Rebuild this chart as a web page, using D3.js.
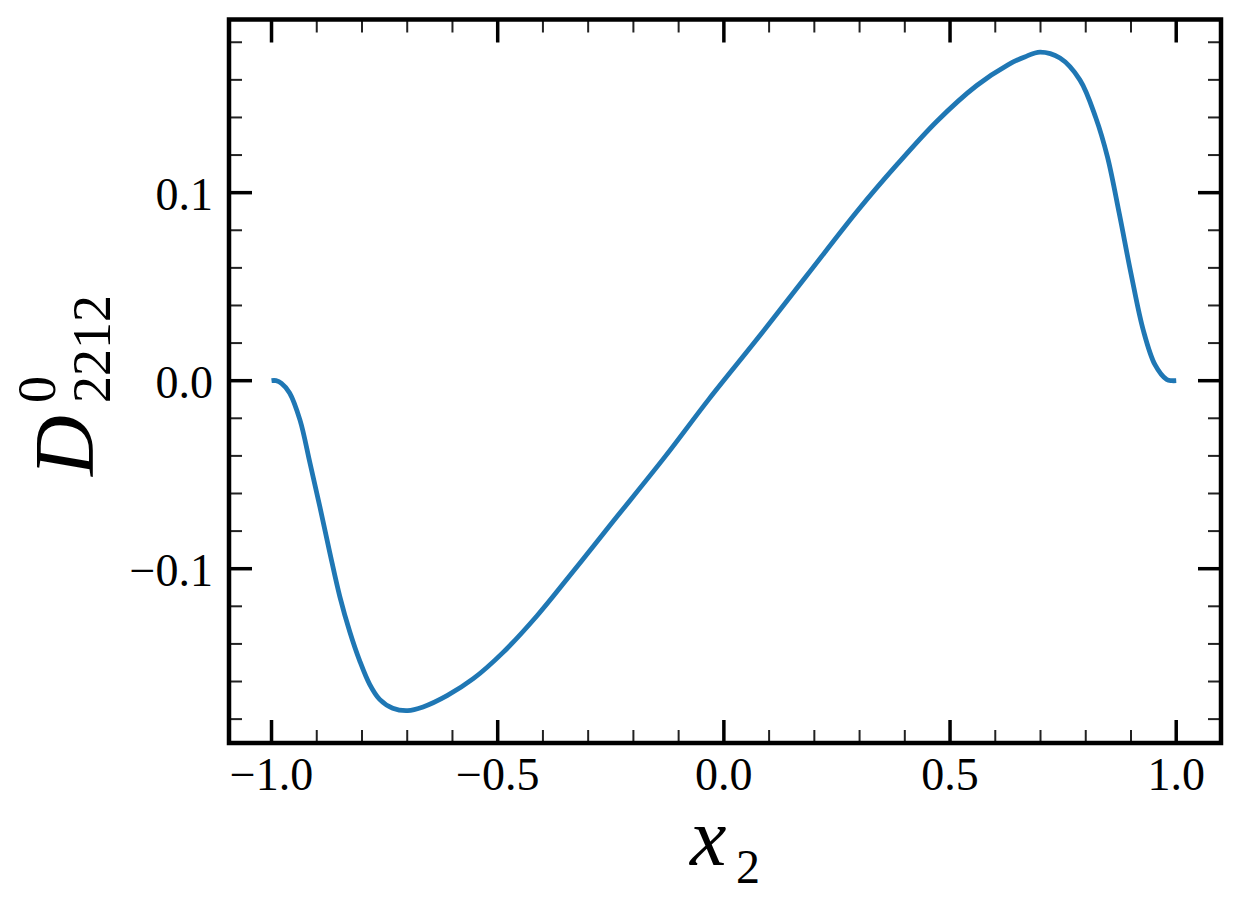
<!DOCTYPE html>
<html lang="en">
<head>
<meta charset="UTF-8">
<title>D2212 vs x2</title>
<script src="https://cdn.jsdelivr.net/npm/d3@7"></script>
<style>
    body { margin: 0; background: #fff; }
    svg { display: block; }
    .tick-label { font-family: 'Liberation Serif', 'Times New Roman', serif; font-size: 46px; fill: #000; }
    .math { font-family: 'Liberation Serif', 'Times New Roman', serif; fill: #000; }
</style>
</head>
<body>
<svg id="chart" width="1240" height="908"></svg>
<script>
    // curve
    const xVals = [-1.0, -0.99, -0.978, -0.96, -0.937, -0.915, -0.893, -0.871, -0.849, -0.827, -0.805, -0.783,
        -0.761, -0.732, -0.699, -0.665, -0.612, -0.554, -0.488, -0.413, -0.340, -0.267, -0.234, -0.13, -0.033,
        0.077, 0.182, 0.296, 0.383, 0.471, 0.559, 0.628, 0.665, 0.699, 0.743, 0.787, 0.822, 0.848, 0.874,
        0.900, 0.927, 0.953, 0.979, 0.99, 1.0];
    const yVals = [0, 0, -0.0014, -0.0065, -0.021, -0.0438, -0.0672, -0.0916, -0.1148, -0.1335, -0.149, -0.1615,
        -0.1695, -0.1742, -0.1755, -0.1735, -0.1675, -0.1585, -0.1445, -0.125, -0.1035, -0.0815, -0.0716, -0.0404, -0.0098,
        0.0232, 0.0555, 0.0905, 0.115, 0.138, 0.157, 0.168, 0.1722, 0.1748, 0.1716, 0.160, 0.140, 0.119, 0.089,
        0.057, 0.027, 0.0085, 0.0006, 0, 0];

    const xMajor = [-1.0, -0.5, 0.0, 0.5, 1.0];
    const xMinor = [-0.9, -0.8, -0.7, -0.6, -0.4, -0.3, -0.2, -0.1, 0.1, 0.2, 0.3, 0.4, 0.6, 0.7, 0.8, 0.9];
    const yMajor = [-0.1, 0.0, 0.1];
    const yMinor = [-0.18, -0.16, -0.14, -0.12, -0.08, -0.06, -0.04, -0.02, 0.02, 0.04, 0.06, 0.08, 0.12, 0.14, 0.16, 0.18];

    const boxL = 229, boxR = 1221, boxT = 19.5, boxB = 743;

    const x = d3.scaleLinear().domain([-1.094, 1.099]).range([boxL, boxR]);
    const y = d3.scaleLinear().domain([-0.1927, 0.1921]).range([boxB, boxT]);
    const fmt = d3.format(".1f");

    const svg = d3.select("#chart");

    const points = xVals.map((v, i) => [v, yVals[i]]);
    const line = d3.line()
        .x(d => x(d[0]))
        .y(d => y(d[1]))
        .curve(d3.curveCatmullRom.alpha(0.5));

    svg.append("path")
        .datum(points)
        .attr("d", line)
        .attr("fill", "none")
        .attr("stroke", "#1f77b4")
        .attr("stroke-width", 4.8);

    // inward ticks on all four sides
    const ticks = svg.append("g");
    function xTicks(vals, len, w, col) {
        vals.forEach(v => {
            ticks.append("line").attr("x1", x(v)).attr("x2", x(v)).attr("y1", boxB).attr("y2", boxB - len)
                .attr("stroke", col).attr("stroke-width", w);
            ticks.append("line").attr("x1", x(v)).attr("x2", x(v)).attr("y1", boxT).attr("y2", boxT + len)
                .attr("stroke", col).attr("stroke-width", w);
        });
    }
    function yTicks(vals, len, w, col) {
        vals.forEach(v => {
            ticks.append("line").attr("y1", y(v)).attr("y2", y(v)).attr("x1", boxL).attr("x2", boxL + len)
                .attr("stroke", col).attr("stroke-width", w);
            ticks.append("line").attr("y1", y(v)).attr("y2", y(v)).attr("x1", boxR).attr("x2", boxR - len)
                .attr("stroke", col).attr("stroke-width", w);
        });
    }
    xTicks(xMinor, 13, 2, "#222");
    yTicks(yMinor, 13, 2, "#222");
    xTicks(xMajor, 23, 3.5, "#000");
    yTicks(yMajor, 23, 3.5, "#000");

    svg.append("rect")
        .attr("x", boxL).attr("y", boxT)
        .attr("width", boxR - boxL).attr("height", boxB - boxT)
        .attr("fill", "none").attr("stroke", "#000").attr("stroke-width", 4.5);

    svg.append("g").selectAll("text")
        .data(xMajor)
        .enter().append("text")
        .attr("class", "tick-label")
        .attr("x", d => x(d))
        .attr("y", 790)
        .attr("text-anchor", "middle")
        .text(d => fmt(d));

    svg.append("g").selectAll("text")
        .data(yMajor)
        .enter().append("text")
        .attr("class", "tick-label")
        .attr("x", 213)
        .attr("y", d => y(d) + 17)
        .attr("text-anchor", "end")
        .text(d => fmt(d));

    // x label: x_2
    svg.append("text").attr("class", "math")
        .attr("x", 690).attr("y", 865)
        .attr("font-size", 82).attr("font-style", "italic")
        .text("x");
    svg.append("text").attr("class", "math")
        .attr("x", 736).attr("y", 883)
        .attr("font-size", 48)
        .text("2");

    // y label: D^0_2212
    const yl = svg.append("g").attr("transform", "translate(93,476) rotate(-90)");
    yl.append("text").attr("class", "math")
        .attr("x", 0).attr("y", 0)
        .attr("font-size", 84).attr("font-style", "italic")
        .text("D");
    yl.append("text").attr("class", "math")
        .attr("x", 73).attr("y", -38)
        .attr("font-size", 54)
        .text("0");
    yl.append("text").attr("class", "math")
        .attr("x", 73).attr("y", 17)
        .attr("font-size", 54)
        .text("2212");
</script>
</body>
</html>
